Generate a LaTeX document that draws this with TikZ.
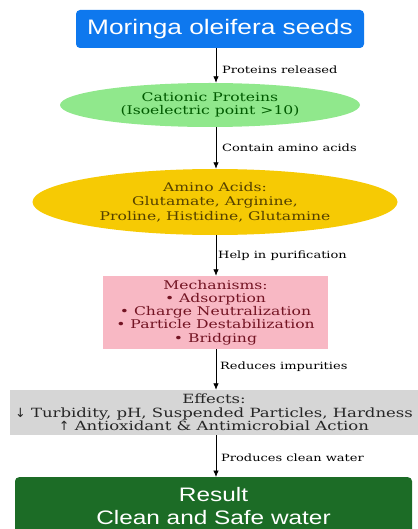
\documentclass[tikz,border=0pt]{standalone}
\usepackage{fontspec}
\setmainfont[FakeStretch=1.3]{DejaVu Serif}
\newfontfamily\headfont[FakeStretch=1.25]{Liberation Sans}
\newfontfamily\arrowfont{DejaVu Sans}
\usepackage{xcolor}
\usepackage{tikz}
\usetikzlibrary{shapes.geometric,arrows.meta}

\definecolor{seedblue}{RGB}{14,120,238}
\definecolor{protgreen}{RGB}{144,232,140}
\definecolor{protdark}{RGB}{0,90,0}
\definecolor{aminogold}{RGB}{246,202,4}
\definecolor{aminodark}{RGB}{85,65,0}
\definecolor{mechpink}{RGB}{248,184,196}
\definecolor{mechdark}{RGB}{115,20,35}
\definecolor{effgray}{RGB}{214,214,214}
\definecolor{resgreen}{RGB}{28,108,38}

\tikzset{
  flow/.style={draw=black,thick,-{Latex[length=6.5pt,width=5.5pt]}},
  steplabel/.style={anchor=west,inner sep=0pt,font=\fontsize{10}{11}\selectfont},
  bodytext/.style={align=center,font=\fontsize{12}{13.5}\selectfont}
}

\begin{document}
\begin{tikzpicture}[x=1pt,y=-1pt]
    \useasboundingbox (0,0) rectangle (417,529);
    \coordinate (ax) at (216,0);

    \node[fill=seedblue,rounded corners=4pt,minimum width=288,minimum height=38,
          text=white,font=\headfont\fontsize{21}{24}\selectfont] (seeds) at (220,29) {Moringa oleifera seeds};
    \node[ellipse,fill=protgreen,minimum width=300,minimum height=44,inner sep=0pt,
          text=protdark,bodytext] (cationic) at (210,105) {Cationic Proteins\\(Isoelectric point >10)};
    \node[ellipse,fill=aminogold,minimum width=365,minimum height=66,inner sep=0pt,
          text=aminodark,bodytext,font=\fontsize{12}{14.5}\selectfont] (amino) at (215,202) {Amino Acids:\\Glutamate, Arginine,\\Proline, Histidine, Glutamine};
    \node[fill=mechpink,minimum width=225,minimum height=73,inner sep=0pt,
          text=mechdark,bodytext,font=\fontsize{12}{13.2}\selectfont] (mech) at (215.5,312.5) {Mechanisms:\\\textbullet{} Adsorption\\\textbullet{} Charge Neutralization\\\textbullet{} Particle Destabilization\\\textbullet{} Bridging};
    \node[fill=effgray,minimum width=409,minimum height=45,inner sep=0pt,
          text=black!85,bodytext,font=\fontsize{12.7}{13.5}\selectfont] (effects) at (214,412.5) {Effects:\\{\arrowfont↓} Turbidity, pH, Suspended Particles, Hardness\\{\arrowfont↑} Antioxidant \& Antimicrobial Action};
    \node[fill=resgreen,rounded corners=4pt,anchor=north,minimum width=397,
          inner ysep=10pt,text=white,align=center,
          font=\headfont\fontsize{19.5}{23.5}\selectfont] (result) at (213.5,477) {Result\\Clean and Safe water};

    \draw[flow] (seeds.south -| ax) -- (cationic.north -| ax);
    \draw[flow] (cationic.south -| ax) -- (amino.north -| ax);
    \draw[flow] (amino.south -| ax) -- (mech.north -| ax);
    \draw[flow] (mech.south -| ax) -- (effects.north -| ax);
    \draw[flow] (effects.south -| ax) -- (result.north -| ax);

    \node[steplabel] (lab1) at (222,70) {Proteins released};
    \node[steplabel] (lab2) at (222,148) {Contain amino acids};
    \node[steplabel] (lab3) at (218,256) {Help in purification};
    \node[steplabel] (lab4) at (220,367) {Reduces impurities};
    \node[steplabel] (lab5) at (221,458) {Produces clean water};
\end{tikzpicture}
\end{document}
